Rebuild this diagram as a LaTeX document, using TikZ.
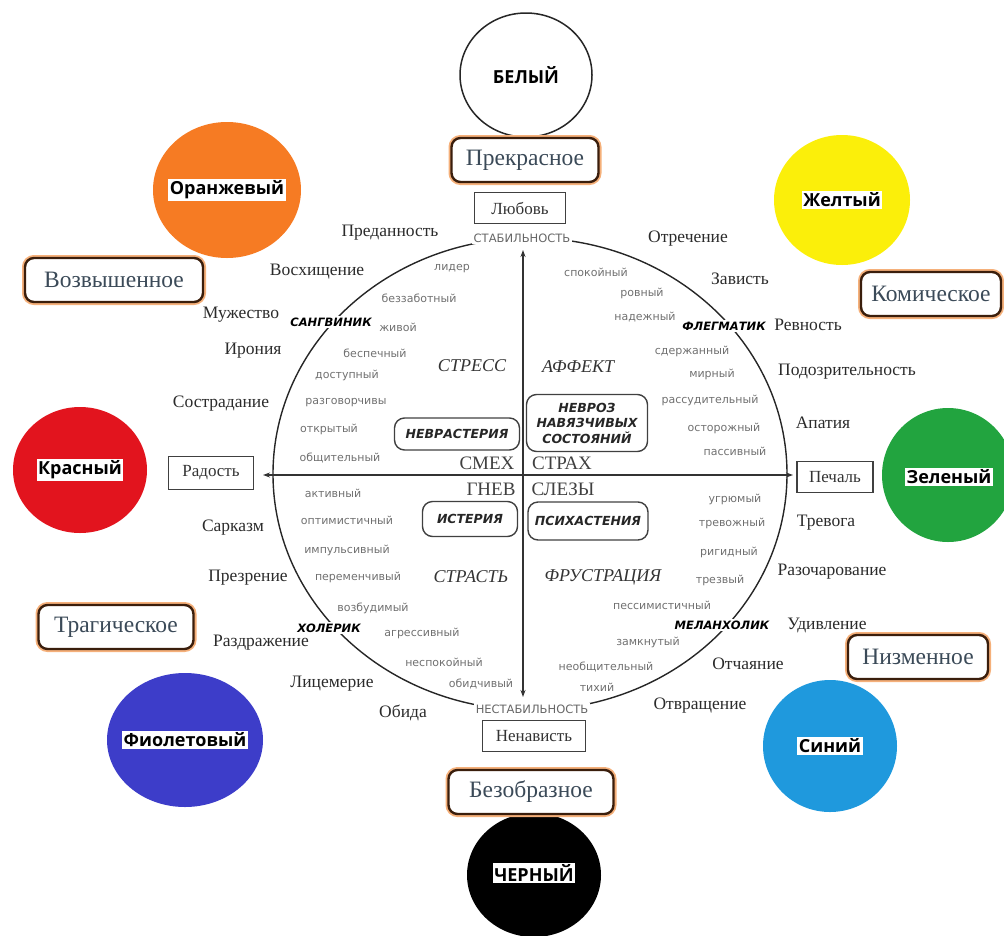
\documentclass[tikz,border=0pt]{standalone}
\usepackage{fontspec}
\setmainfont{Liberation Serif}
\newfontfamily\dvsans{DejaVu Sans}
\newfontfamily\osans{Open Sans}
\usetikzlibrary{shapes.geometric,arrows.meta}
\definecolor{corange}{HTML}{F67B23}
\definecolor{cyellow}{HTML}{FBEF0A}
\definecolor{cred}{HTML}{E2141E}
\definecolor{cgreen}{HTML}{22A43F}
\definecolor{cviolet}{HTML}{3D3DC9}
\definecolor{cblue}{HTML}{1F99DD}
\definecolor{aesthline}{HTML}{3A1E0C}
\definecolor{aesthglow}{HTML}{F5B07A}
\definecolor{aesthtext}{HTML}{3B4A58}
\definecolor{wordc}{HTML}{2B2B2B}
\definecolor{adjc}{HTML}{707070}
\tikzset{
  colorc/.style={ellipse, draw=none, inner sep=0pt},
  clabel/.style={fill=white, inner sep=1.5pt, font=\osans\bfseries\fontsize{18}{20}\selectfont, text=black},
  aesth/.style={rectangle, rounded corners=9pt, draw=aesthline, line width=2.4pt, fill=white,
     preaction={draw=aesthglow, line width=6pt}, minimum height=44pt, inner sep=2pt,
     font=\fontsize{23.5}{25}\selectfont, text=aesthtext},
  feel/.style={rectangle, draw=black!75, line width=1.2pt, fill=white, minimum height=31pt,
     inner sep=2pt, font=\fontsize{17}{19}\selectfont, text=black!80},
  word/.style={inner sep=0pt, font=\fontsize{17.5}{19}\selectfont, text=wordc},
  adj/.style={inner sep=0pt, font=\dvsans\fontsize{11}{12}\selectfont, text=adjc},
  temper/.style={fill=white, inner sep=2pt, font=\dvsans\bfseries\itshape\fontsize{11.5}{12}\selectfont, text=black},
  pole/.style={fill=white, inner sep=2pt, font=\dvsans\fontsize{11.5}{12}\selectfont, text=black!60},
  stateword/.style={inner sep=0pt, font=\itshape\fontsize{18}{20}\selectfont, text=black!80},
  basic/.style={inner sep=0pt, font=\fontsize{19}{21}\selectfont, text=black!75},
  disorder/.style={rectangle, rounded corners=10pt, draw=black!75, line width=1.4pt, align=center,
     inner sep=3pt, font=\dvsans\bfseries\itshape\fontsize{12.5}{15.5}\selectfont, text=black!85},
  axisline/.style={draw=black!80, line width=1.4pt, {Stealth[length=7pt,width=5pt]}-{Stealth[length=7pt,width=5pt]}},
  rim/.style={ellipse, draw=black!85, line width=1.4pt, inner sep=0pt},
}
\begin{document}
\begin{tikzpicture}[x=1pt,y=-1pt]
\useasboundingbox (0,0) rectangle (1004,935);

% colour circles
\node[colorc, draw=black!85, line width=1.5pt, fill=white, minimum width=132pt, minimum height=124pt] (white) at (526,75) {};
\node[colorc, fill=corange, minimum width=148pt, minimum height=136pt] (orange) at (227,190) {};
\node[colorc, fill=cyellow, minimum width=136pt, minimum height=130pt] (yellow) at (842,200) {};
\node[colorc, fill=cred, minimum width=134pt, minimum height=126pt] (red) at (80,470) {};
\node[colorc, fill=cgreen, minimum width=132pt, minimum height=134pt] (green) at (948,475) {};
\node[colorc, fill=cviolet, minimum width=156pt, minimum height=134pt] (violet) at (185,740) {};
\node[colorc, fill=cblue, minimum width=134pt, minimum height=132pt] (blue) at (830,746) {};
\node[colorc, fill=black, minimum width=134pt, minimum height=124pt] (black) at (534,875) {};

\node[inner sep=0pt, font=\osans\bfseries\fontsize{18}{20}\selectfont] (whitelbl) at (white) {БЕЛЫЙ};
\node[clabel] (orangelbl) at (orange) {Оранжевый};
\node[clabel] (yellowlbl) at (yellow) {Желтый};
\node[clabel] (redlbl) at (red) {Красный};
\node[clabel] (greenlbl) at (949,477) {Зеленый};
\node[clabel] (violetlbl) at (violet) {Фиолетовый};
\node[clabel] (bluelbl) at (blue) {Синий};
\node[clabel] (blacklbl) at (534,873) {ЧЕРНЫЙ};

% aesthetic categories
\node[aesth, minimum width=147pt] (beautiful) at (525,160) {Прекрасное};
\node[aesth, minimum width=178pt] (sublime) at (114,280) {Возвышенное};
\node[aesth, minimum width=140pt] (comic) at (931,294) {Комическое};
\node[aesth, minimum width=155pt] (tragic) at (116,627) {Трагическое};
\node[aesth, minimum width=140pt] (base) at (918,657) {Низменное};
\node[aesth, minimum width=165pt] (ugly) at (531,792) {Безобразное};

% the wheel
\node[rim, minimum width=514pt, minimum height=472pt] (wheel) at (530,474) {};
\coordinate (vtop) at (523,250);
\coordinate (vbot) at (523,697);
\coordinate (hleft) at (263,475);
\coordinate (hright) at (793,475);
\draw[axisline] (vbot) -- (vtop);
\draw[axisline] (hleft) -- (hright);

% feelings boxes
\node[feel, minimum width=91pt] (love) at (520,208) {Любовь};
\node[feel, minimum width=85pt, minimum height=33pt] (joy) at (211,473) {Радость};
\node[feel, minimum width=76pt] (sad) at (835,477) {Печаль};
\node[feel, minimum width=103pt] (hate) at (534,736) {Ненависть};

% poles
\node[pole] (stab) at (522,238) {СТАБИЛЬНОСТЬ};
\node[pole] (instab) at (532,709) {НЕСТАБИЛЬНОСТЬ};

% temperaments
\node[temper] (sang) at (331,322) {САНГВИНИК};
\node[temper] (phleg) at (724,326) {ФЛЕГМАТИК};
\node[temper] (chol) at (329,628) {ХОЛЕРИК};
\node[temper] (melan) at (722,625) {МЕЛАНХОЛИК};

% outer words, left
\node[word] (w1) at (390,233) {Преданность};
\node[word] (w2) at (317,272) {Восхищение};
\node[word] (w3) at (241,315) {Мужество};
\node[word] (w4) at (253,351) {Ирония};
\node[word] (w5) at (221,404) {Сострадание};
\node[word] (w6) at (233,528) {Сарказм};
\node[word] (w7) at (248,578) {Презрение};
\node[word] (w8) at (261,643) {Раздражение};
\node[word] (w9) at (332,684) {Лицемерие};
\node[word] (w10) at (403,713) {Обида};
% outer words, right
\node[word] (w11) at (688,239) {Отречение};
\node[word] (w12) at (740,279) {Зависть};
\node[word] (w13) at (808,325) {Ревность};
\node[word] (w14) at (847,372) {Подозрительность};
\node[word] (w15) at (823,423) {Апатия};
\node[word] (w16) at (826,523) {Тревога};
\node[word] (w17) at (832,572) {Разочарование};
\node[word] (w18) at (827,625) {Удивление};
\node[word] (w19) at (748,664) {Отчаяние};
\node[word] (w20) at (700,706) {Отвращение};

% states
\node[stateword] (stress) at (472,366) {СТРЕСС};
\node[stateword] (affect) at (578,367) {АФФЕКТ};
\node[stateword] (passion) at (471,577) {СТРАСТЬ};
\node[stateword] (frust) at (603,577) {ФРУСТРАЦИЯ};

\node[basic] (laugh) at (487,463) {СМЕХ};
\node[basic] (fear) at (562,463) {СТРАХ};
\node[basic] (anger) at (491,489) {ГНЕВ};
\node[basic] (tears) at (563,489) {СЛЕЗЫ};

% disorders
\node[disorder, minimum width=125pt, minimum height=32pt] (neur) at (457,434) {НЕВРАСТЕРИЯ};
\node[disorder, minimum width=121pt, minimum height=57pt] (ocd) at (587,423) {НЕВРОЗ\\НАВЯЗЧИВЫХ\\СОСТОЯНИЙ};
\node[disorder, minimum width=95pt, minimum height=35pt] (hyst) at (470,519) {ИСТЕРИЯ};
\node[disorder, minimum width=120pt, minimum height=38pt] (psych) at (588,521) {ПСИХАСТЕНИЯ};

% adjectives, top-left
\node[adj] (a1) at (452,269) {лидер};
\node[adj] (a2) at (419,298) {беззаботный};
\node[adj] (a3) at (398,327) {живой};
\node[adj] (a4) at (375,353) {беспечный};
\node[adj] (a5) at (347,375) {доступный};
\node[adj] (a6) at (346,403) {разговорчивы};
\node[adj] (a7) at (329,429) {открытый};
\node[adj] (a8) at (340,458) {общительный};
% top-right
\node[adj] (b1) at (596,272) {спокойный};
\node[adj] (b2) at (642,293) {ровный};
\node[adj] (b3) at (645,317) {надежный};
\node[adj] (b4) at (692,351) {сдержанный};
\node[adj] (b5) at (712,374) {мирный};
\node[adj] (b6) at (710,400) {рассудительный};
\node[adj] (b7) at (724,428) {осторожный};
\node[adj] (b8) at (735,451) {пассивный};
% bottom-left
\node[adj] (c1) at (333,493) {активный};
\node[adj] (c2) at (347,520) {оптимистичный};
\node[adj] (c3) at (347,550) {импульсивный};
\node[adj] (c4) at (358,577) {переменчивый};
\node[adj] (c5) at (373,608) {возбудимый};
\node[adj] (c6) at (422,633) {агрессивный};
\node[adj] (c7) at (444,662) {неспокойный};
\node[adj] (c8) at (481,684) {обидчивый};
% bottom-right
\node[adj] (d1) at (735,499) {угрюмый};
\node[adj] (d2) at (732,523) {тревожный};
\node[adj] (d3) at (729,552) {ригидный};
\node[adj] (d4) at (720,580) {трезвый};
\node[adj] (d5) at (662,605) {пессимистичный};
\node[adj] (d6) at (648,642) {замкнутый};
\node[adj] (d7) at (606,667) {необщительный};
\node[adj] (d8) at (597,687) {тихий};
\end{tikzpicture}
\end{document}
